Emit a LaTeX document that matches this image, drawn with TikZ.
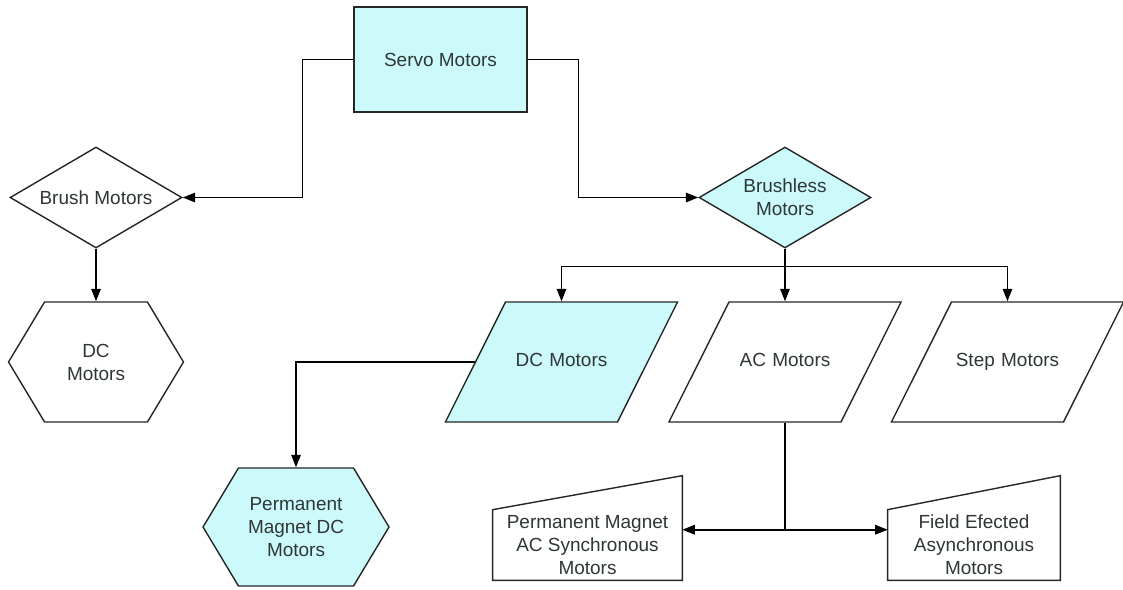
\documentclass[tikz,border=0pt]{standalone}
\usepackage{fontspec}
\setmainfont{Liberation Sans}
\usepackage{xcolor}
\definecolor{motorCyan}{HTML}{CCFAFB}
\definecolor{motorLine}{HTML}{262626}
\definecolor{motorText}{HTML}{2E3636}
\usetikzlibrary{arrows.meta,positioning,shapes.geometric,shapes.symbols,calc}
\tikzset{
  >={Triangle[length=2.5mm,width=1.9mm]},
  every picture/.append style={font=\fontsize{10.8}{13.1}\selectfont},
  base/.style={draw=motorLine,line width=0.8pt,text=motorText,align=center,inner sep=1pt},
  rootbox/.style={base,rectangle,fill=motorCyan,minimum width=3.46cm,minimum height=2.1cm},
  choice/.style={base,diamond,aspect=1.7,minimum width=3.44cm,minimum height=2.02cm},
  hexbox/.style={base,signal,signal to=west and east,signal pointer angle=118,minimum width=3.5cm,minimum height=2.4cm},
  slanted/.style={base,trapezium,trapezium left angle=63.4,trapezium right angle=116.6,
    text width=2.1cm,text height=8pt,text depth=2.5pt,inner xsep=0.07cm,inner ysep=28.9pt},
  inputbox/.style={rectangle,text=motorText,align=center,inner sep=1pt,minimum height=1.4cm},
  inputline/.style={draw=motorLine,line width=0.8pt},
  flowarrow/.style={->,draw=black,line width=0.9pt},
  flowline/.style={draw=black,line width=0.9pt},
}

\begin{document}
\begin{tikzpicture}[x=0.02cm,y=-0.02cm]
  \useasboundingbox (0,0) rectangle (1123,589);

  \node[rootbox] (servo) at (440.5,59.5) {Servo Motors};
  \node[choice] (brush) at (96,197.5) {Brush Motors};
  \node[choice,fill=motorCyan] (brushless) at (785,197.5) {Brushless\\Motors};

  \node[hexbox] (dchex) at (96,362) {DC\\Motors};
  \node[slanted,fill=motorCyan] (dcpar) at (561.5,362) {DC Motors};
  \node[slanted] (acpar) at (785,362) {AC Motors};
  \node[slanted] (steppar) at (1007.5,362) {Step Motors};

  \node[hexbox,fill=motorCyan,minimum width=3.72cm,minimum height=2.36cm] (pmdc) at (296,527) {Permanent\\Magnet DC\\Motors};
  \node[inputbox,minimum width=3.78cm] (pmac) at (587.5,545) {Permanent Magnet\\AC Synchronous\\Motors};
  \node[inputbox,minimum width=3.44cm] (field) at (974,545) {Field Efected\\Asynchronous\\Motors};
  \draw[inputline] (pmac.south west) -- (pmac.south east) -- ([yshift=0.68cm]pmac.north east) -- (pmac.north west) -- cycle;
  \draw[inputline] (field.south west) -- (field.south east) -- ([yshift=0.68cm]field.north east) -- (field.north west) -- cycle;

  \draw[flowarrow] (servo.west) -- ++(-51,0) |- (brush.east);
  \draw[flowarrow] (servo.east) -- ++(51,0) |- (brushless.west);
  \draw[flowarrow] (brush.south) -- (dchex.north);

  \draw[flowline] (brushless.south) -- ++(0,18) coordinate (fork);
  \draw[flowarrow] (fork) -| (dcpar.center |- dcpar.north);
  \draw[flowarrow] (fork) -- (acpar.center |- acpar.north);
  \draw[flowarrow] (fork) -| (steppar.center |- steppar.north);

  \draw[flowarrow] (dcpar.left side) -| (pmdc.north);

  \draw[flowline] (acpar.center |- acpar.south) -- ++(0,107) coordinate (split);
  \draw[flowarrow] (split) -- (split -| pmac.east);
  \draw[flowarrow] (split) -- (split -| field.west);
\end{tikzpicture}
\end{document}
